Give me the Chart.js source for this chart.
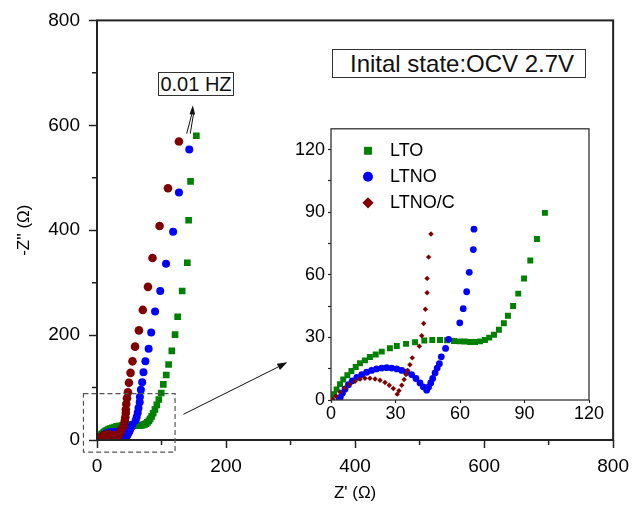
<!DOCTYPE html>
<html>
<head>
<meta charset="utf-8">
<script src="https://cdn.jsdelivr.net/npm/chart.js@4.4.1/dist/chart.umd.min.js"></script>
<style>
  body { margin: 0; background: #fff; }
  #wrap { position: relative; width: 636px; height: 507px; font-family: "Liberation Sans", Arial, sans-serif; }
  #main { position: absolute; left: 0; top: 0; }
  #inset { position: absolute; left: 290px; top: 115px; }
  .note { position: absolute; box-sizing: border-box; border: 1px solid #333; background: #fff; color: #111; white-space: nowrap; }
  #state { left: 332px; top: 49px; width: 254px; height: 29px; font-size: 24px; line-height: 27px; padding-left: 17px; }
  #freq { left: 158px; top: 72px; width: 76px; height: 24px; font-size: 20px; line-height: 22px; text-align: center; }
</style>
</head>
<body>
<div id="wrap">
  <canvas id="main" width="636" height="507"></canvas>
  <canvas id="inset" width="315" height="315"></canvas>
  <div class="note" id="state">Inital state:OCV 2.7V</div>
  <div class="note" id="freq">0.01 HZ</div>
</div>
<script>
// Nyquist data, Z' and -Z'' in ohm.
// high-frequency part: shown in the inset and the main plot
const ltoX = [0.3, 1.4, 2.6, 4.2, 5.7, 7.6, 9.5, 11.5, 13.5, 15.8, 18.1, 20.8, 23.6, 27.4, 30.6, 34.9, 39.1, 43.4, 47.1, 50.7, 54.0, 57.2, 59.7, 62.2, 64.7, 67.0, 69.3, 71.6, 73.6, 75.8, 78.1, 80.4, 82.3, 84.7, 87.1, 89.8, 92.7, 95.8, 99.5];
const ltoY = [0.3, 2.8, 5.1, 7.6, 9.8, 11.9, 13.9, 15.8, 17.6, 19.0, 20.6, 21.8, 23.2, 24.8, 25.9, 26.9, 27.7, 28.5, 28.8, 28.8, 28.6, 28.3, 28.1, 28.0, 27.8, 27.8, 28.1, 28.8, 29.9, 31.3, 33.7, 36.8, 40.4, 45.1, 51.0, 58.2, 66.9, 77.2, 89.7];
const ltnoX = [3.7, 4.3, 5.3, 6.5, 8.1, 9.9, 12.0, 14.3, 16.6, 18.9, 21.2, 23.6, 25.9, 28.2, 30.6, 32.9, 35.2, 37.5, 39.5, 41.4, 42.9, 44.5, 45.4, 46.4, 47.3, 48.4, 49.4, 50.4, 51.3, 53.3, 54.7, 59.9, 61.5, 63.1, 64.3, 66.2, 66.5];
const ltnoY = [0, 1.3, 3.2, 5.2, 7.3, 9.2, 10.8, 12.2, 13.3, 14.2, 14.9, 15.3, 15.5, 15.3, 14.9, 14.2, 13.4, 12.2, 10.3, 8.2, 6.3, 4.7, 6.2, 8.2, 10.3, 13.0, 15.3, 17.4, 20.7, 24.7, 29.1, 37.0, 43.8, 51.9, 61.2, 72.1, 81.9];
const lncX = [0.8, 2.3, 4.2, 6.5, 8.8, 11.2, 13.5, 15.8, 18.1, 20.5, 22.8, 25.1, 27.1, 29.0, 30.8, 31.6, 32.9, 34.0, 34.9, 35.7, 36.7, 37.8, 41.1, 42.2, 43.1, 43.9, 44.7, 44.7, 45.4, 46.5];
const lncY = [0.3, 1.9, 3.8, 5.8, 7.6, 9.0, 10.0, 10.4, 10.4, 10.1, 9.5, 8.4, 7.1, 5.5, 2.8, 4.4, 7.1, 9.8, 12.2, 14.2, 16.9, 20.2, 25.8, 30.8, 36.7, 43.5, 51.4, 58.3, 68.5, 79.6];

// low-frequency tail: main plot only
const ltoTailX = [102.8, 107.3, 111, 116, 121, 125, 132, 140, 142, 145, 154];
const ltoTailY = [106, 124, 144, 170, 201, 235, 284, 338, 419, 493, 580];
const ltnoTailX = [68, 70, 72, 75, 80, 84, 90, 98, 107, 118, 127, 143];
const ltnoTailY = [96, 110, 129, 150, 174, 205, 245, 284, 336, 397, 472, 554];
const lncTailX = [48, 49.5, 52, 55, 59, 65, 71, 79, 86, 97, 110, 127];
const lncTailY = [91, 109, 128, 150, 178, 209, 248, 292, 347, 408, 480, 569];

const seriesNames = ['LTO', 'LTNO', 'LTNO/C'];
const mainMinorTicks = [100, 300, 500, 700];

const FONT = '"Liberation Sans", Arial, sans-serif';
const GREEN = '#008000', BLUE = '#0000ff', MAROON = '#800000';

function pts(xs, ys) {
    return xs.map((x, i) => ({ x: x, y: ys[i] }));
}

function drawArrow(ctx, x1, y1, x2, y2, len, half) {
    const a = Math.atan2(y2 - y1, x2 - x1);
    const bx = x2 - len * Math.cos(a), by = y2 - len * Math.sin(a);
    ctx.beginPath();
    ctx.moveTo(x1, y1);
    ctx.lineTo(bx, by);
    ctx.stroke();
    ctx.beginPath();
    ctx.moveTo(x2, y2);
    ctx.lineTo(bx + half * Math.sin(a), by - half * Math.cos(a));
    ctx.lineTo(bx - half * Math.sin(a), by + half * Math.cos(a));
    ctx.closePath();
    ctx.fill();
}

// frame, minor ticks, zoom box and arrows on the big plot
const mainDecor = {
    id: 'mainDecor',
    afterDraw(chart) {
        const { ctx, chartArea: a, scales: { x, y } } = chart;
        ctx.save();
        ctx.strokeStyle = '#222';
        ctx.lineWidth = 2;
        ctx.strokeRect(a.left, a.top, a.right - a.left, a.bottom - a.top);

        ctx.lineWidth = 1.5;
        ctx.beginPath();
        mainMinorTicks.forEach(v => {
            const px = x.getPixelForValue(v);
            ctx.moveTo(px, a.bottom); ctx.lineTo(px, a.bottom + 5);
            const py = y.getPixelForValue(v);
            ctx.moveTo(a.left, py); ctx.lineTo(a.left - 5, py);
        });
        ctx.stroke();

        // dashed box round the zoomed region
        ctx.strokeStyle = '#555';
        ctx.lineWidth = 1.2;
        ctx.setLineDash([5, 3]);
        const bx0 = x.getPixelForValue(-21), bx1 = x.getPixelForValue(121);
        const by0 = y.getPixelForValue(88.5), by1 = y.getPixelForValue(-23);
        ctx.strokeRect(bx0, by0, bx1 - bx0, by1 - by0);
        ctx.setLineDash([]);

        ctx.strokeStyle = '#111';
        ctx.fillStyle = '#111';
        ctx.lineWidth = 1;
        drawArrow(ctx, x.getPixelForValue(134), y.getPixelForValue(49), x.getPixelForValue(295), y.getPixelForValue(148), 10, 3.5);

        // arrow up to the 0.01 Hz label
        const tipX = x.getPixelForValue(148.5), tipY = y.getPixelForValue(638);
        ctx.beginPath();
        ctx.moveTo(x.getPixelForValue(139), y.getPixelForValue(584));
        ctx.lineTo(tipX - 0.8, tipY + 8);
        ctx.moveTo(x.getPixelForValue(144.5), y.getPixelForValue(584));
        ctx.lineTo(tipX + 0.8, tipY + 8);
        ctx.stroke();
        drawArrow(ctx, tipX - 0.5, tipY + 9, tipX, tipY, 9, 2.8);
        ctx.restore();
    }
};

// frame and legend inside the inset
const legendRadius = [5.6, 5, 5.6];
const insetDecor = {
    id: 'insetDecor',
    afterDraw(chart) {
        const { ctx, chartArea: a } = chart;
        ctx.save();
        ctx.strokeStyle = '#333';
        ctx.lineWidth = 1.3;
        ctx.strokeRect(a.left, a.top, a.right - a.left, a.bottom - a.top);

        ctx.font = '18px ' + FONT;
        ctx.textBaseline = 'middle';
        ctx.textAlign = 'left';
        chart.data.datasets.forEach((ds, i) => {
            const ry = a.top + 22 + i * 26;
            ctx.fillStyle = ds.backgroundColor;
            Chart.helpers.drawPoint(ctx, { pointStyle: ds.pointStyle, radius: legendRadius[i], rotation: 0, borderWidth: 0 }, a.left + 37, ry);
            ctx.fillStyle = '#000';
            ctx.fillText(ds.label, a.left + 59, ry);
        });
        ctx.restore();
    }
};

function dataset(label, data, color, style, radius, order) {
    return {
        label: label, data: data, showLine: false,
        backgroundColor: color, borderColor: color,
        pointStyle: style, pointRadius: radius, pointBorderWidth: 0,
        order: order
    };
}

function axisStyle(fontSize, tickLen, tickPad) {
    return {
        type: 'linear',
        ticks: { color: '#000', font: { size: fontSize, family: FONT }, padding: tickPad, maxRotation: 0 },
        grid: { drawOnChartArea: false, tickLength: tickLen, tickColor: '#222', tickWidth: 1.5 },
        border: { display: false }
    };
}

const mainX = axisStyle(19, 8, 7);
Object.assign(mainX, { min: 0, max: 800,
    title: { display: true, text: "Z' (Ω)", color: '#000', font: { size: 17, family: FONT }, padding: { top: 0, bottom: 3 } },
    afterFit: s => { s.height = 67; } });
mainX.ticks.stepSize = 200;

const mainY = axisStyle(19, 8, 9);
Object.assign(mainY, { min: 0, max: 800,
    title: { display: true, text: "-Z'' (Ω)", color: '#000', font: { size: 17, family: FONT }, padding: { top: 14, bottom: 0 } },
    afterFit: s => { s.width = 97; } });
mainY.ticks.stepSize = 200;

new Chart(document.getElementById('main'), {
    type: 'scatter',
    data: {
        datasets: [
            dataset(seriesNames[0], pts(ltoX.concat(ltoTailX), ltoY.concat(ltoTailY)), GREEN, 'rect', 4.7, 3),
            dataset(seriesNames[1], pts(ltnoX.concat(ltnoTailX), ltnoY.concat(ltnoTailY)), BLUE, 'circle', 4, 2),
            dataset(seriesNames[2], pts(lncX.concat(lncTailX), lncY.concat(lncTailY)), MAROON, 'circle', 4.3, 1)
        ]
    },
    options: {
        responsive: false, animation: false, events: [],
        layout: { padding: { left: 0, top: 18, right: 17, bottom: 0 } },
        scales: { x: mainX, y: mainY },
        plugins: { legend: { display: false }, tooltip: { enabled: false } }
    },
    plugins: [mainDecor]
});

const insetX = axisStyle(18, 3, 0);
Object.assign(insetX, { min: 0, max: 120, afterFit: s => { s.height = 30; } });
Object.assign(insetX.ticks, { stepSize: 15, includeBounds: false, callback: v => (v % 30 === 0 ? v : '') });
insetX.grid.tickWidth = 1.2;

const insetY = axisStyle(18, 3, 3);
Object.assign(insetY, { min: 0, max: 130, afterFit: s => { s.width = 41; } });
Object.assign(insetY.ticks, { stepSize: 15, includeBounds: false, callback: v => (v % 30 === 0 ? v : '') });
insetY.grid.tickWidth = 1.2;

new Chart(document.getElementById('inset'), {
    type: 'scatter',
    data: {
        datasets: [
            dataset(seriesNames[0], pts(ltoX, ltoY), GREEN, 'rect', 4.2, 3),
            dataset(seriesNames[1], pts(ltnoX, ltnoY), BLUE, 'circle', 3.4, 2),
            dataset(seriesNames[2], pts(lncX, lncY), MAROON, 'rectRot', 2.7, 1)
        ]
    },
    options: {
        responsive: false, animation: false, events: [],
        layout: { padding: { left: 0, top: 10, right: 16, bottom: 0 } },
        scales: { x: insetX, y: insetY },
        plugins: { legend: { display: false }, tooltip: { enabled: false } }
    },
    plugins: [insetDecor]
});
</script>
</body>
</html>
